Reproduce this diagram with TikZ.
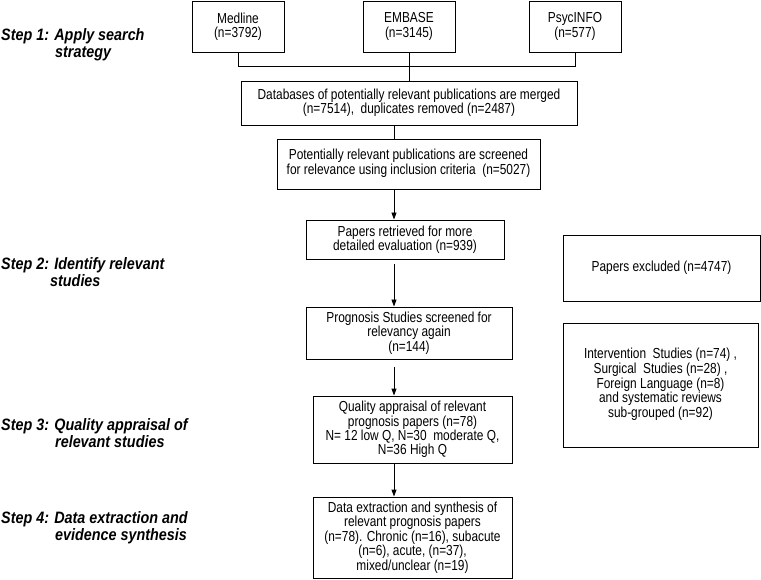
\documentclass[tikz,border=0pt]{standalone}
\usepackage{fontspec}
\setmainfont{Liberation Sans}
\newfontfamily\boxfont[FakeStretch=0.82]{Liberation Sans}
\newfontfamily\stepfont[FakeStretch=0.87]{Liberation Sans}
\usetikzlibrary{arrows.meta}
\begin{document}
\begin{tikzpicture}[x=1pt,y=-1pt,
  box/.style={draw, line width=0.9pt, inner sep=0pt, align=center,
    font=\boxfont\fontsize{14.5}{14.4}\selectfont},
  steplabel/.style={inner sep=0pt, align=left, anchor=west,
    font=\stepfont\bfseries\itshape\fontsize{16.5}{17}\selectfont},
  conn/.style={line width=0.9pt},
  arr/.style={line width=0.9pt, -{Triangle[length=7pt,width=5pt]}}]
\useasboundingbox (0,0) rectangle (761,580);

% step labels
\node[steplabel] (s1) at (1,44.5) {Step 1: Apply search\\\hspace*{54pt}strategy};
\node[steplabel] (s2) at (1,272) {Step 2: Identify relevant\\\hspace*{49pt}studies};
\node[steplabel] (s3) at (1,433) {Step 3: Quality appraisal of\\\hspace*{54pt}relevant studies};
\node[steplabel] (s4) at (1,527.5) {Step 4: Data extraction and\\\hspace*{54pt}evidence synthesis};

% database boxes
\node[box, minimum width=92pt, minimum height=51pt] (medline) at (238,26.5) {Medline\\(n=3792)};
\node[box, minimum width=92pt, minimum height=51pt] (embase) at (409,26.5) {EMBASE\\(n=3145)};
\node[box, minimum width=92pt, minimum height=51pt] (psyc) at (575,26.5) {PsycINFO\\(n=577)};

\coordinate (jn) at (409,66);
\coordinate (col) at (394,0);

\node[box, minimum width=336pt, minimum height=44pt] (merged) at (409,103)
  {Databases of potentially relevant publications are merged\\(n=7514),\ \ duplicates removed (n=2487)};
\node[box, minimum width=263pt, minimum height=50pt] (screen) at (408.5,164)
  {\raisebox{4pt}{\begin{tabular}{@{}c@{}}Potentially relevant publications are screened\\for relevance using inclusion criteria\ \ (n=5027)\end{tabular}}};
\node[box, minimum width=198pt, minimum height=39pt] (papers) at (405,239.5)
  {Papers retrieved for more\\detailed evaluation (n=939)};
\node[box, minimum width=206pt, minimum height=52pt] (prog) at (409,333)
  {Prognosis Studies screened for\\relevancy again\\(n=144)};
\node[box, minimum width=199pt, minimum height=67pt] (qual) at (412.5,429.5)
  {Quality appraisal of relevant\\prognosis papers (n=78)\\N= 12 low Q, N=30\ \ moderate Q,\\N=36 High Q};
\node[box, minimum width=199pt, minimum height=81pt] (data) at (412.5,537.5)
  {Data extraction and synthesis of\\relevant prognosis papers\\(n=78). Chronic (n=16), subacute\\(n=6), acute, (n=37),\\mixed/unclear (n=19)};

\node[box, minimum width=197pt, minimum height=66pt] (excl) at (661.5,268)
  {Papers excluded (n=4747)};
\node[box, minimum width=195pt, minimum height=124pt] (other) at (660.5,385)
  {\raisebox{7pt}{\begin{tabular}{@{}c@{}}Intervention\ \ Studies (n=74)\ ,\\Surgical\ \ Studies (n=28)\ ,\\Foreign Language (n=8)\\and systematic reviews\\sub-grouped (n=92)\end{tabular}}};

% connectors
\draw[conn] (medline.south) -- (medline.south |- jn) -- (psyc.south |- jn) -- (psyc.south);
\draw[conn] (embase.south) -- (merged.north);
\draw[conn] (merged.south -| col) -- (screen.north -| col);
\draw[arr] (screen.south -| col) -- (papers.north -| col);
\draw[arr, shorten <=5pt] (papers.south -| col) -- (prog.north -| col);
\draw[arr, shorten <=8pt] (prog.south -| col) -- (qual.north -| col);
\draw[arr] (qual.south -| col) -- (data.north -| col);
\end{tikzpicture}
\end{document}
